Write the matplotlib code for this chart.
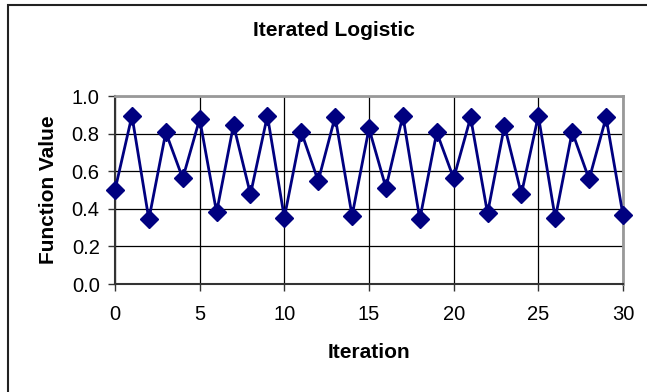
import matplotlib
matplotlib.use('Agg')
from matplotlib import pyplot as plt
from matplotlib.patches import Rectangle

plt.rcParams['font.family'] = ['Liberation Sans', 'DejaVu Sans']

# values
iteration = list(range(31))
value = [0.50, 0.895, 0.344, 0.807, 0.562, 0.878, 0.381, 0.846, 0.477, 0.895,
         0.353, 0.810, 0.548, 0.890, 0.363, 0.828, 0.512, 0.895, 0.344, 0.807,
         0.562, 0.886, 0.376, 0.842, 0.479, 0.895, 0.349, 0.810, 0.557, 0.886,
         0.367]
x_ticks = [0, 5, 10, 15, 20, 25, 30]
y_ticks = [0.0, 0.2, 0.4, 0.6, 0.8, 1.0]

W, H = 647, 392
fig = plt.figure(figsize=(W / 100, H / 100), dpi=100)

# outer chart border (only top/left visible in the reference)
fig.patches.append(Rectangle((8 / W, -0.05), 1.1, (H - 5) / H + 0.05,
                             transform=fig.transFigure, fill=False,
                             edgecolor='#222222', linewidth=1.5))

ax = fig.add_axes([115 / W, 1 - 284 / H, (623 - 115) / W, (284 - 96) / H])
ax.plot(iteration, value, color='#000080', linewidth=2,
        marker='D', markersize=9.5, markerfacecolor='#000080',
        markeredgecolor='#000080', clip_on=False, zorder=3)

ax.set_xlim(0, 30)
ax.set_ylim(0, 1.0)
ax.set_xticks(x_ticks)
ax.set_yticks(y_ticks)
ax.set_yticklabels([f'{v:.1f}' for v in y_ticks])
ax.grid(True, color='black', linewidth=0.9)
ax.set_axisbelow(True)

ax.tick_params(axis='both', direction='out', length=5, width=1,
               color='#333333', labelsize=14.5, pad=6)
ax.tick_params(axis='x', pad=10)

for side in ['top', 'right']:
    ax.spines[side].set_color('#999999')
    ax.spines[side].set_linewidth(2)
for side in ['left', 'bottom']:
    ax.spines[side].set_color('#333333')
    ax.spines[side].set_linewidth(1.5)

ax.set_xlabel('Iteration', fontsize=15, fontweight='bold', labelpad=14)
ax.set_ylabel('Function Value', fontsize=15, fontweight='bold', labelpad=10)
fig.text(334 / W, 1 - 30 / H, 'Iterated Logistic', ha='center', va='center',
         fontsize=15, fontweight='bold')

fig.savefig('out.png', dpi=100)
